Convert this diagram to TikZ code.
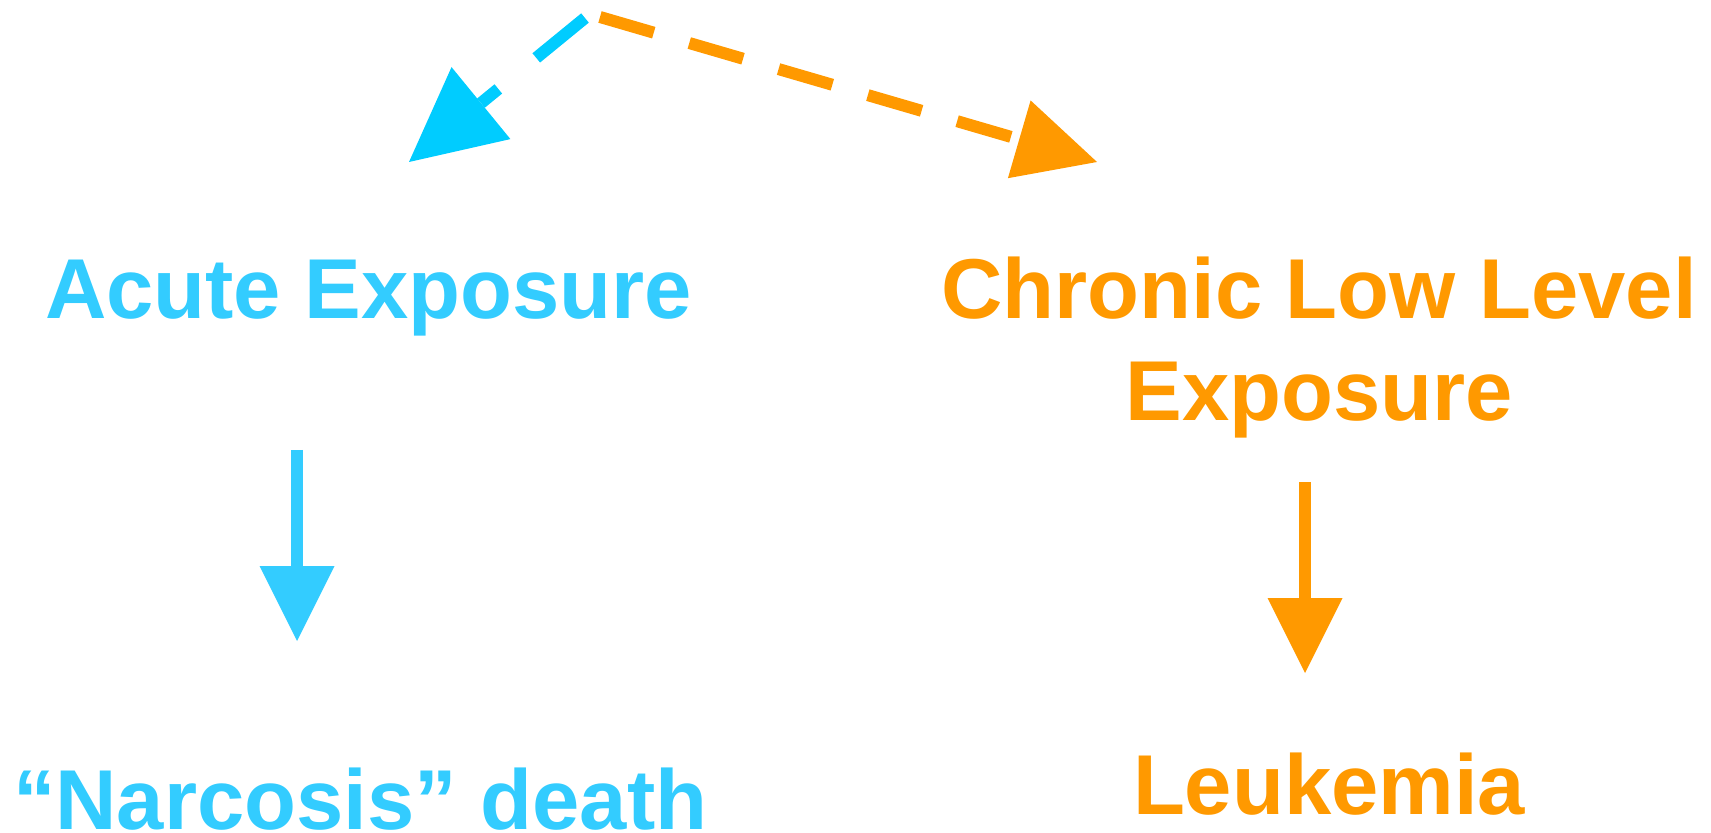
\documentclass[tikz,border=0pt]{standalone}
\usepackage{fontspec}
\setmainfont{Liberation Sans}
\usetikzlibrary{arrows.meta}
\definecolor{cyanT}{HTML}{33CCFF}
\definecolor{cyanA}{HTML}{00CCFF}
\definecolor{orangeT}{HTML}{FF9900}
\begin{document}
\begin{tikzpicture}[x=0.5pt,y=-0.5pt,
  lbl/.style={inner sep=0pt, outer sep=0pt, font=\fontsize{42.5}{51}\selectfont\bfseries},
  downarrow/.style={line width=6pt, line cap=butt, -{Triangle[length=37.5pt,width=37.5pt,line width=0pt]}},
  dasharrow/.style={line width=6pt, line cap=butt}]
\useasboundingbox (0,0) rectangle (1711,833);

% texts
\node[lbl, text=cyanT, anchor=base west] (acute) at (45,319) {Acute Exposure};
\node[lbl, text=orangeT, anchor=base, align=center] (chronic) at (1319,421) {Chronic Low Level\\Exposure};
\node[lbl, text=cyanT, anchor=base west, text depth=0pt] (narc) at (13,829) {“Narcosis” death};
\node[lbl, text=orangeT, anchor=base west] (leuk) at (1133,814) {Leukemia};

% connector ends
\coordinate (cs) at (585,18);
\coordinate (os) at (600,17);
\coordinate (ct) at (409,162);
\coordinate (ot) at (1097,162);
\coordinate (a1) at (297,450);
\coordinate (a2) at (297,641);
\coordinate (b1) at (1305,482);
\coordinate (b2) at (1305,673);

% dashed arrows
\draw[dasharrow, cyanA, dash pattern=on 31.5pt off 24.5pt,
  -{Triangle[length=46.5pt,width=46.5pt,line width=0pt]}] (cs) -- (ct);
\draw[dasharrow, orangeT, dash pattern=on 28pt off 18.5pt,
  -{Triangle[length=40.5pt,width=40.5pt,line width=0pt]}] (os) -- (ot);

% vertical arrows
\draw[downarrow, cyanT] (a1) -- (a2);
\draw[downarrow, orangeT] (b1) -- (b2);
\end{tikzpicture}
\end{document}
